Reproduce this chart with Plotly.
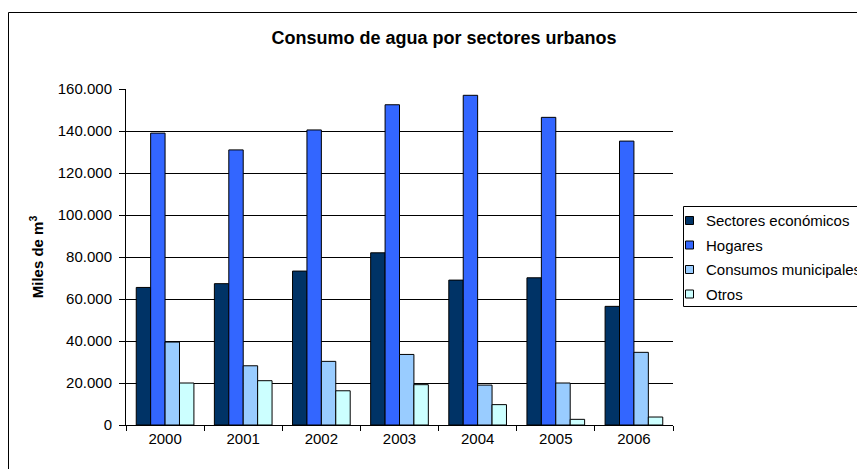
import plotly.graph_objects as go

years = ["2000", "2001", "2002", "2003", "2004", "2005", "2006"]
sectores = [65500, 67300, 73300, 82000, 69000, 70100, 56500]
hogares = [139000, 131000, 140500, 152500, 157000, 146500, 135200]
municipales = [39500, 28200, 30300, 33600, 19000, 20000, 34600]
otros = [20000, 21100, 16300, 19200, 9700, 2700, 3800]

series = [
    ("Sectores económicos", sectores, "#003366"),
    ("Hogares", hogares, "#3366FF"),
    ("Consumos municipales", municipales, "#99CCFF"),
    ("Otros", otros, "#CCFFFF"),
]

FONT = "Arial, Liberation Sans, sans-serif"

fig = go.Figure()
for name, vals, col in series:
    fig.add_trace(go.Bar(x=years, y=vals, name=name,
                         marker=dict(color=col, line=dict(color="black", width=1))))

# page is shown with an 8px body margin; work in screen pixels, then shift
OFF = 8
W, H = 865, 469
L, Rr, T, Bb = 126 - OFF, 673 - OFF, 89 - OFF, 425 - OFF
pw = Rr - L
ph = Bb - T

def px(xs):
    return (xs - OFF - L) / pw

def py(ys):
    return (Bb - (ys - OFF)) / ph

shapes = [
    dict(type="rect", xref="paper", yref="paper", x0=px(8.5), x1=px(880), y0=py(490), y1=py(12.5),
         line=dict(color="black", width=1), layer="below"),
    # legend box
    dict(type="rect", xref="paper", yref="paper", x0=px(683.5), x1=px(890), y0=py(306.5), y1=py(206.5),
         line=dict(color="black", width=1), fillcolor="white", layer="above"),
]
annotations = []
row_y = [220.5, 245, 269.5, 294]
for (name, _, col), ry in zip(series, row_y):
    shapes.append(dict(type="rect", xref="paper", yref="paper", x0=px(685.5), x1=px(693.5),
                       y0=py(ry + 4), y1=py(ry - 4), line=dict(color="black", width=1),
                       fillcolor=col, layer="above"))
    annotations.append(dict(text=name, xref="paper", yref="paper", x=px(704), y=py(ry),
                            xanchor="left", yanchor="middle", showarrow=False,
                            font=dict(size=15, family=FONT, color="black")))

fig.update_layout(
    width=W, height=H,
    margin=dict(l=L, r=W - Rr, t=T, b=H - Bb, autoexpand=False),
    paper_bgcolor="white", plot_bgcolor="white",
    separators=",.",
    font=dict(family=FONT, size=15, color="black"),
    barmode="group", bargap=0.262, bargroupgap=0,
    title=dict(text="<b>Consumo de agua por sectores urbanos</b>", x=px(444), xanchor="center",
               xref="paper", y=1 - (38 - OFF) / H, yanchor="middle",
               font=dict(size=18, family=FONT)),
    showlegend=False,
    xaxis=dict(type="category", showline=True, linecolor="black", linewidth=1,
               ticks="outside", ticklen=5, tickcolor="black", tickson="boundaries",
               showgrid=False, tickfont=dict(size=15)),
    yaxis=dict(range=[0, 160000], dtick=20000, tickformat=",d", showline=True, linecolor="black",
               linewidth=1, ticks="outside", ticklen=6, tickcolor="black",
               showgrid=True, gridcolor="black", gridwidth=1, zeroline=False,
               tickfont=dict(size=15), ticklabelstandoff=4,
               title=dict(text="<b>Miles de m<sup>3</sup></b>", font=dict(size=15), standoff=10)),
    shapes=shapes,
    annotations=annotations,
)

fig.write_html("out.html")
